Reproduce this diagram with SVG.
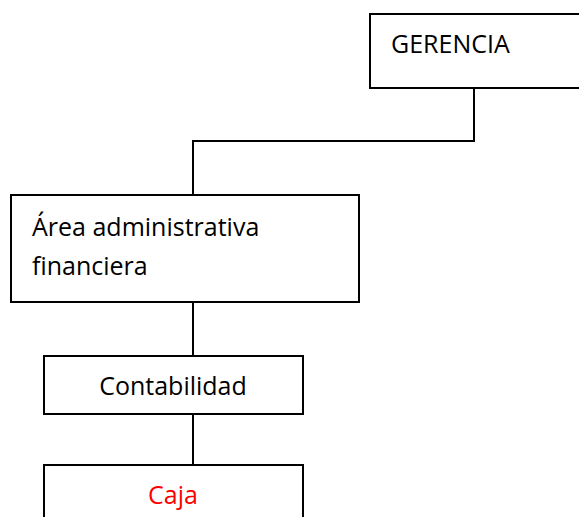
<svg xmlns="http://www.w3.org/2000/svg" width="579" height="517" viewBox="0 0 579 517">
<style>
.box{fill:#fff;stroke:#000;stroke-width:2}
.conn{fill:none;stroke:#000;stroke-width:2}
text{font-family:"Open Sans","Liberation Sans",sans-serif;font-size:25px;fill:#000}
</style>
<rect width="579" height="517" fill="#fff"/>
<g id="connectors">
<path class="conn" d="M474 88 V141 H193 V195"/>
<path class="conn" d="M193 302 V356"/>
<path class="conn" d="M193 414 V465"/>
</g>
<g id="gerencia">
<rect class="box" x="370" y="14" width="215" height="74"/>
<text x="391" y="53">GERENCIA</text>
</g>
<g id="area">
<rect class="box" x="11" y="195" width="348" height="107"/>
<text x="32" y="236">Área administrativa</text>
<text x="32" y="275">financiera</text>
</g>
<g id="contabilidad">
<rect class="box" x="44" y="356" width="259" height="58"/>
<text x="173" y="395" text-anchor="middle">Contabilidad</text>
</g>
<g id="caja">
<rect class="box" x="44" y="465" width="259" height="70"/>
<text x="173" y="504" text-anchor="middle" style="fill:#ff0000">Caja</text>
</g>
</svg>
